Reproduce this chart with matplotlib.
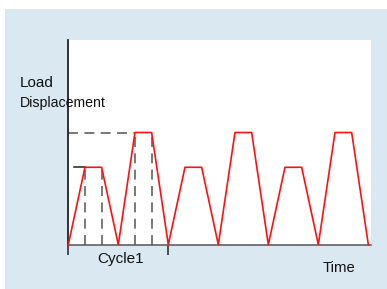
import matplotlib
matplotlib.use("Agg")
import matplotlib.pyplot as plt
from matplotlib.patches import Rectangle

plt.rcParams['font.family'] = ['Liberation Sans', 'DejaVu Sans']

# waveform: time steps and load levels (small / large cycle)
time = list(range(19))
load = [0, 0.69, 0.69, 0, 1.0, 1.0, 0, 0.69, 0.69, 0, 1.0, 1.0, 0, 0.69, 0.69, 0, 1.0, 1.0, 0]
cycle_ticks = [0, 6]
dash_times = [1, 2, 4, 5]  # vertical guide lines inside Cycle1

W, H = 387, 289
fig = plt.figure(figsize=(W / 100, H / 100), dpi=100)
fig.patch.set_facecolor('white')
fig.patches.append(Rectangle((5 / W, 0), 1 - 5 / W, 1 - 9 / H, transform=fig.transFigure,
                             facecolor='#d9e8f1', edgecolor='none', zorder=-10))

ax = fig.add_axes([68.3 / W, 1 - 244.7 / H, (371 - 68.3) / W, (244.7 - 40.3) / H])
ax.set_zorder(1)
ax.set_facecolor('white')
ax.set_xlim(0, 18.16)
ax.set_ylim(0, 1.822)

ax.plot(time, load, color='#ff1010', lw=1.2, zorder=3, clip_on=False)

# guide lines
dash = (6.5, 4.2)
for t in dash_times:
    ax.plot([t, t], [0, load[t]], color='#555555', lw=1.1, dashes=dash, zorder=2)
ax.plot([0, 4], [1.0, 1.0], color='#555555', lw=1.1, dashes=dash, zorder=2)
ax.plot([0.35, 1], [0.69, 0.69], color='#222222', lw=1.1, zorder=2)

for s in ['top', 'right']:
    ax.spines[s].set_visible(False)
ax.spines['left'].set_color('#222222')
ax.spines['left'].set_linewidth(1.3)
ax.spines['bottom'].set_color('#555555')
ax.spines['bottom'].set_linewidth(1.1)

ax.set_xticks(cycle_ticks)
ax.set_xticklabels([])
ax.set_yticks([])
ax.tick_params(axis='x', direction='out', length=7.5, width=1.1, color='#222222')

fig.text(20 / W, 1 - 87.3 / H, 'Load', fontsize=11, va='baseline', ha='left', color='#111111')
fig.text(20 / W, 1 - 107.3 / H, 'Displacement', fontsize=10.2, va='baseline', ha='left', color='#111111')
fig.text(120.8 / W, 1 - 263.5 / H, 'Cycle1', fontsize=11, va='baseline', ha='center', color='#111111')
fig.text(322.7 / W, 1 - 272 / H, 'Time', fontsize=10.7, va='baseline', ha='left', color='#111111')

fig.savefig('out.png', dpi=100, facecolor=fig.get_facecolor())
